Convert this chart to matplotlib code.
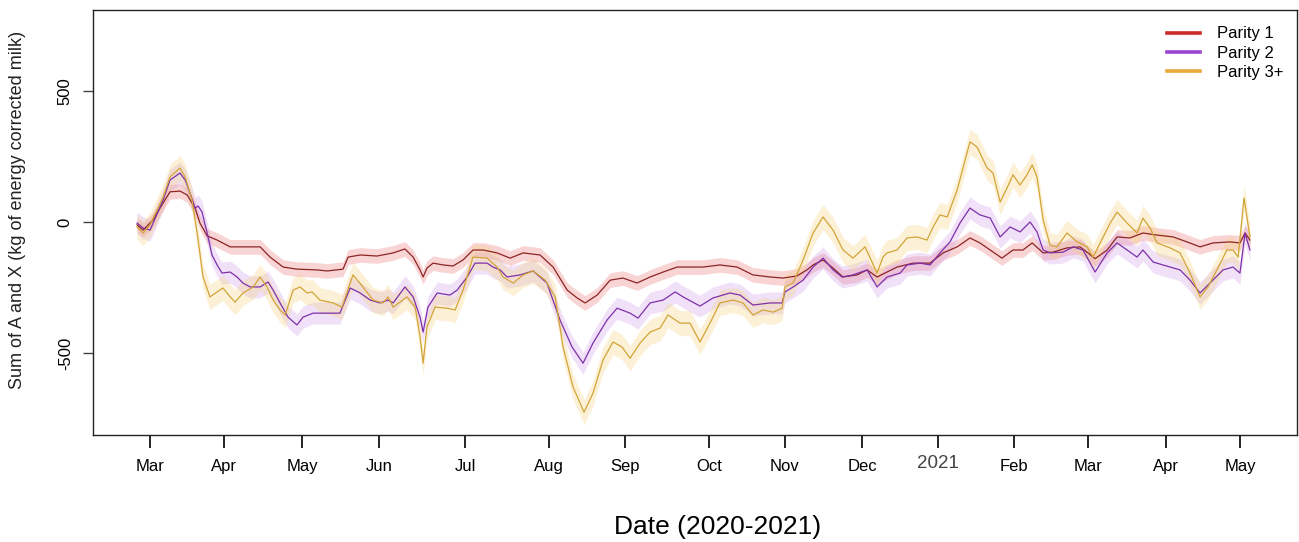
import matplotlib
matplotlib.use("Agg")
import matplotlib.pyplot as plt
from matplotlib.lines import Line2D
import numpy as np

plt.rcParams['font.family'] = ['Liberation Sans', 'DejaVu Sans']

# ---- data (x = days since 1 Mar 2020, y = kg ECM) ----
p1_day = [-5.1, -2.7, 1.2, 5.1, 7.8, 11.7, 14.5, 17.6, 19.5, 22.3, 26.2, 31.3, 36.3, 43.0, 46.9, 52.0,
          57.4, 65.3, 69.2, 75.4, 77.4, 82.1, 88.7, 95.0, 99.6, 102.8, 105.5, 106.7, 108.2, 110.6, 114.5,
          118.4, 122.3, 126.2, 130.1, 135.6, 140.7, 145.8, 152.4, 157.5, 163.0, 166.9, 170.0, 174.7, 179.8,
          184.8, 190.3, 195.4, 200.5, 206.0, 211.0, 216.1, 222.7, 229.4, 235.6, 242.3, 247.4, 252.8, 256.7,
          259.1, 263.0, 266.9, 270.8, 276.3, 280.2, 284.1, 291.9, 298.2, 304.8, 309.9, 315.4, 320.4, 324.3,
          328.3, 332.9, 337.2, 341.1, 344.7, 349.0, 352.9, 358.3, 363.4, 366.5, 369.3, 374.0, 377.9, 382.9,
          388.0, 393.5, 399.8, 405.2, 410.3, 415.4, 422.0, 425.9, 427.9, 429.8]
p1_val = [-11, -31, 8, 73, 115, 118, 103, 53, -4, -53, -69, -95, -95, -95, -134, -172,
          -180, -183, -187, -180, -134, -126, -130, -118, -103, -134, -183, -210, -176, -157, -164,
          -168, -145, -107, -107, -118, -138, -118, -126, -172, -260, -290, -309, -279, -222,
          -214, -233, -210, -191, -172, -172, -172, -164, -172, -202, -210, -214, -206, -183,
          -164, -145, -176, -210, -202, -183, -210, -172, -157, -157, -118, -95, -61, -80,
          -107, -138, -107, -107, -80, -118, -115, -99, -95, -118, -140, -107, -57, -61,
          -42, -50, -57, -76, -95, -80, -76, -80, -42, -69]

p2_day = [-5.1, -2.7, 0.0, 5.1, 7.8, 11.7, 13.7, 15.6, 17.6, 18.8, 20.3, 22.3, 24.2, 26.2, 28.1, 31.3,
          34.0, 36.3, 39.1, 43.0, 46.1, 48.1, 50.8, 53.9, 57.4, 59.8, 63.7, 69.2, 74.2, 78.2, 82.1, 86.0,
          89.9, 93.0, 95.0, 99.6, 102.8, 105.5, 106.7, 108.6, 112.2, 117.2, 120.0, 123.9, 127.0, 131.7,
          134.0, 136.8, 139.5, 144.6, 149.7, 155.1, 160.2, 164.9, 169.2, 173.1, 178.6, 182.5, 187.6,
          190.7, 195.4, 200.5, 205.2, 208.3, 214.9, 220.0, 226.6, 230.6, 235.6, 242.3, 247.0, 248.1,
          251.3, 255.2, 259.1, 263.0, 266.9, 270.4, 274.7, 280.2, 284.1, 288.0, 293.1, 295.8, 300.9,
          304.8, 308.7, 312.6, 316.5, 320.4, 324.3, 328.3, 332.2, 336.1, 340.0, 343.9, 346.6, 349.0,
          351.7, 356.8, 360.7, 364.6, 369.3, 374.0, 377.9, 381.8, 385.7, 388.0, 392.0, 398.6, 402.5,
          406.4, 410.3, 414.2, 419.3, 423.2, 425.9, 427.9, 429.8]
p2_val = [-4, -23, -31, 84, 160, 187, 160, 111, 53, 61, 38, -42, -126, -164, -195, -191,
          -210, -233, -248, -248, -229, -260, -309, -363, -393, -363, -348, -348, -348, -252, -271, -298,
          -309, -298, -309, -248, -286, -363, -420, -325, -271, -279, -260, -210, -157, -157,
          -172, -183, -210, -202, -187, -233, -374, -477, -539, -462, -374, -329, -348,
          -367, -309, -298, -267, -286, -321, -290, -271, -279, -317, -309, -309, -267,
          -248, -222, -172, -138, -183, -210, -202, -183, -248, -210, -195, -164, -157,
          -164, -118, -76, -4, 53, 27, 15, -57, -19, -38, 0, -38, -107,
          -118, -115, -95, -107, -191, -118, -80, -107, -134, -107, -153, -172, -183,
          -222, -271, -233, -183, -172, -195, -42, -107]

p3_day = [-5.1, -2.7, 0.0, 5.1, 7.8, 11.7, 13.7, 16.4, 18.4, 20.7, 23.4, 26.2, 28.5, 31.3, 33.2, 36.3,
          40.3, 43.0, 45.7, 48.1, 50.8, 52.8, 55.9, 58.6, 61.4, 63.3, 66.4, 71.5, 75.0, 79.3, 83.2, 87.1,
          91.1, 93.0, 95.0, 100.4, 103.6, 105.5, 106.7, 108.2, 111.4, 116.1, 119.2, 122.3, 126.2, 131.7,
          135.6, 137.9, 141.9, 145.8, 149.7, 154.4, 158.3, 161.4, 165.3, 169.6, 173.1, 177.0, 180.9,
          184.4, 187.6, 191.5, 195.4, 199.3, 202.4, 207.1, 211.0, 214.9, 218.8, 222.7, 227.8, 231.7,
          235.6, 239.5, 243.5, 247.0, 248.1, 251.3, 255.2, 259.1, 263.0, 266.9, 270.8, 274.7, 279.4,
          284.1, 286.4, 288.0, 291.9, 295.8, 299.7, 303.6, 306.0, 308.7, 311.5, 315.4, 320.4, 323.2,
          327.1, 329.4, 332.2, 334.9, 337.2, 340.0, 342.7, 344.7, 346.6, 349.0, 351.7, 354.4, 358.3,
          362.3, 366.2, 368.5, 371.3, 375.2, 377.9, 381.8, 385.7, 388.0, 390.8, 393.5, 398.6, 402.5,
          406.4, 410.3, 413.4, 416.9, 420.8, 423.2, 425.2, 427.5, 429.8]
p3_val = [-19, -42, -11, 95, 172, 206, 172, 84, -42, -210, -286, -267, -252, -286, -306, -271,
          -248, -210, -248, -298, -336, -355, -260, -248, -271, -267, -298, -309, -325, -202, -248, -298,
          -309, -286, -325, -286, -325, -439, -539, -401, -325, -329, -336, -260, -134, -138,
          -172, -210, -233, -202, -187, -222, -286, -477, -630, -726, -653, -527, -458,
          -477, -520, -462, -420, -405, -355, -386, -386, -458, -386, -309, -298, -309,
          -355, -336, -344, -329, -248, -233, -145, -42, 19, -31, -107, -138, -95,
          -195, -134, -118, -107, -61, -57, -69, -19, 27, 19, 122, 306, 286,
          206, 187, 76, 130, 180, 141, 180, 218, 172, 8, -88, -95, -42,
          -76, -95, -134, -80, -4, 38, -4, -42, 15, -23, -80, -99, -118,
          -195, -286, -248, -183, -107, -107, -134, 92, -57]

ci_halfwidth = [28, 42, 48]
series_labels = ["Parity 1", "Parity 2", "Parity 3+"]

tick_days = [0, 28.9, 59.4, 89.5, 123.1, 155.9, 185.6, 218.4, 248.1, 278.2, 308.0, 337.7, 366.6, 397.1, 426.0]
tick_labels = ["Mar", "Apr", "May", "Jun", "Jul", "Aug", "Sep", "Oct", "Nov", "Dec", "2021",
               "Feb", "Mar", "Apr", "May"]
y_ticks = [-500, 0, 500]

# ---- styling ----
line_cols = ["#8E2424", "#7E30A8", "#D3A437"]
band_cols = ["#EE8A8A", "#CC95EC", "#F6D27A"]
band_alpha = [0.36, 0.28, 0.30]
legend_cols = ["#CC2B2B", "#9B45CF", "#E9A838"]

fig = plt.figure(figsize=(12.99, 5.42), dpi=100)
ax = fig.add_axes([93/1299, 1-435/542, (1297-93)/1299, (435-10)/542])

days = [p1_day, p2_day, p3_day]
vals = [p1_val, p2_val, p3_val]
for d, v, hw, bc, ba in zip(days, vals, ci_halfwidth, band_cols, band_alpha):
    v = np.asarray(v, float)
    ax.fill_between(d, v - hw, v + hw, color=bc, alpha=ba, linewidth=0)
for d, v, lc in zip(days, vals, line_cols):
    ax.plot(d, v, color=lc, lw=0.9)

ax.set_xlim(-22.3, 448.2)
ax.set_ylim(-813, 809)

ax.set_xticks(tick_days)
ax.set_xticklabels(tick_labels, fontsize=12)
ax.tick_params(axis='x', length=9, width=1.2, pad=8.5, color='black')
for lab in ax.get_xticklabels():
    if lab.get_text() == "2021":
        lab.set_fontsize(13.5)
        lab.set_color("#444444")
        lab.set_y(0.010)

ax.set_yticks(y_ticks)
ax.set_yticklabels([str(t) for t in y_ticks], fontsize=12, rotation=90, va='center')
ax.tick_params(axis='y', length=7.5, width=1.0, pad=7, color='#444444')

for s in ax.spines.values():
    s.set_linewidth(1.0)
    s.set_color('#222222')

fig.text(18/1299, 1-210/542, "Sum of A and X (kg of energy corrected milk)", rotation=90,
         ha='center', va='center', fontsize=13, color='#222222')
fig.text(718/1299, 1-527/542, "Date (2020-2021)", ha='center', va='center', fontsize=19)

handles = [Line2D([0], [0], color=c, lw=2.6) for c in legend_cols]
ax.legend(handles, series_labels, loc='upper right', bbox_to_anchor=(0.997, 0.985), frameon=False,
          fontsize=12, handlelength=2.0, handletextpad=1.0, labelspacing=0.25, borderaxespad=0.2)

fig.savefig("out.png", dpi=100)
